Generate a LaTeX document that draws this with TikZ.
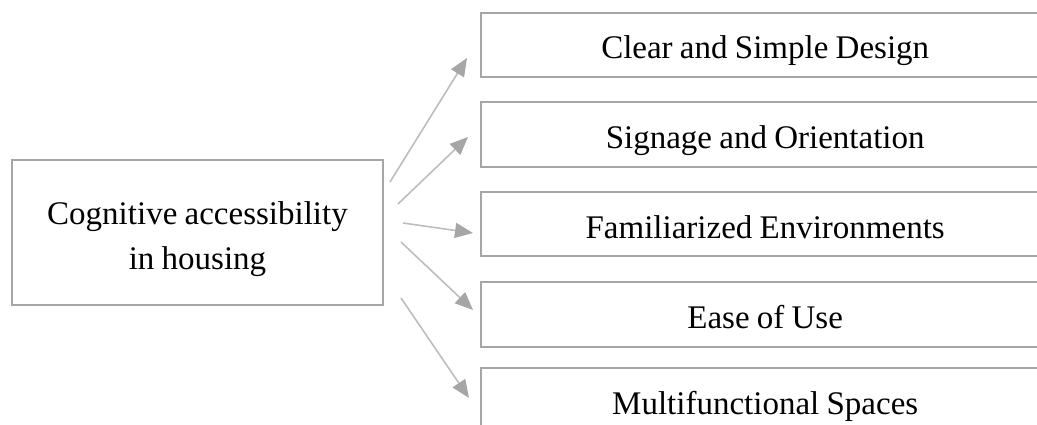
\documentclass[tikz,border=0pt]{standalone}
\usepackage{fontspec}
\setmainfont{Liberation Serif}[WordSpace={0.88,0,0}]
\usetikzlibrary{arrows.meta}
\definecolor{boxgray}{HTML}{A6A6A6}
\definecolor{arrgray}{HTML}{BDBDBD}
\tikzset{
  txtfont/.style={font=\fontsize{33}{45}\selectfont},
  mainbox/.style={draw=boxgray, line width=2pt, minimum width=371pt, minimum height=145pt, text width=360pt, align=flush center, txtfont, inner sep=0pt, text height=0pt, text depth=15pt},
  itembox/.style={minimum height=64pt, text width=568pt, align=flush center, anchor=west, txtfont, inner sep=0pt, text height=28pt, text depth=0pt},
  itemframe/.style={draw=boxgray, line width=2pt},
  conn/.style={draw=arrgray, line width=1.6pt, -{Triangle[length=18pt,width=15pt,color=boxgray]}}
}
\begin{document}
\begin{tikzpicture}[x=1pt,y=-1pt]
\useasboundingbox (0,0) rectangle (1037,425);
\clip (0,0) rectangle (1037,425);
\node[mainbox] (src) at (197.5,232.5) {Cognitive accessibility\\in housing};
\node[itembox] (b1) at (481,45) {Clear and Simple Design};
\node[itembox] (b2) at (481,134.5) {Signage and Orientation};
\node[itembox] (b3) at (481,224) {Familiarized Environments};
\node[itembox] (b4) at (481,314.5) {Ease of Use};
\node[itembox] (b5) at (481,400.5) {Multifunctional Spaces};
\foreach \b in {b1,b2,b3,b4,b5}{
  \draw[itemframe] (\b.north west) rectangle ([xshift=20pt]\b.south east);
}
\coordinate (s1) at (390,182); \coordinate (t1) at (467,58);
\coordinate (s2) at (398,204); \coordinate (t2) at (468,137);
\coordinate (s3) at (403,223); \coordinate (t3) at (473,233);
\coordinate (s4) at (401,242); \coordinate (t4) at (473,310);
\coordinate (s5) at (401,298); \coordinate (t5) at (469,398);
\foreach \i in {1,...,5}{
  \draw[conn] (s\i) -- (t\i);
}
\end{tikzpicture}
\end{document}
